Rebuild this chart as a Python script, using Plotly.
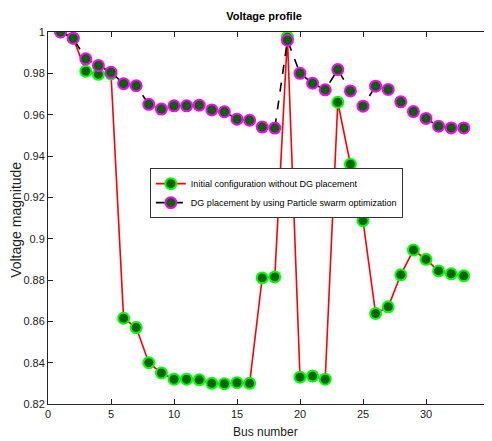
import plotly.graph_objects as go

bus = list(range(1, 34))
v_initial = [1.0, 0.997, 0.981, 0.9795, 0.9797, 0.8615, 0.857, 0.840, 0.835, 0.832,
             0.832, 0.8317, 0.830, 0.8298, 0.8303, 0.830, 0.881, 0.8815, 0.9975, 0.833,
             0.8335, 0.832, 0.966, 0.936, 0.9087, 0.8638, 0.867, 0.8825, 0.8945, 0.890,
             0.8844, 0.883, 0.882]
v_pso = [1.0, 0.997, 0.987, 0.9838, 0.9805, 0.975, 0.974, 0.965, 0.9627, 0.9643,
         0.9643, 0.9646, 0.9623, 0.9614, 0.9578, 0.9573, 0.954, 0.9535, 0.996, 0.980,
         0.9752, 0.972, 0.9818, 0.9715, 0.9641, 0.9738, 0.9722, 0.9662, 0.9615, 0.9582,
         0.9544, 0.9536, 0.9536]
x_ticks = [0, 5, 10, 15, 20, 25, 30, 35]
y_ticks = [0.82, 0.84, 0.86, 0.88, 0.9, 0.92, 0.94, 0.96, 0.98, 1.0]
y_tick_text = ["0.82", "0.84", "0.86", "0.88", "0.9", "0.92", "0.94", "0.96", "0.98", "1"]

FONT = "Liberation Sans, Arial, sans-serif"

fig = go.Figure()
fig.add_trace(go.Scatter(
    x=bus, y=v_initial, mode="lines+markers",
    name="Initial configuration without DG placement",
    line=dict(color="#ff0000", width=1.6),
    marker=dict(size=11, color="#006400", line=dict(color="#00ff00", width=2)),
))
fig.add_trace(go.Scatter(
    x=bus, y=v_pso, mode="lines+markers",
    name="DG placement by using Particle swarm optimization",
    line=dict(color="#000000", width=1.6, dash="dash"),
    marker=dict(size=11, color="#006400", line=dict(color="#ff00ff", width=2)),
))

# page body has an 8px margin, so the figure is sized/offset to compensate
fig.update_layout(
    width=484, height=433,
    margin=dict(l=40, r=3, t=24, b=37),
    paper_bgcolor="white", plot_bgcolor="white",
    font=dict(family=FONT, size=11, color="#222222"),
    title=dict(text="<b>Voltage profile</b>", x=0.529, xanchor="center", y=0.981,
               yanchor="middle", font=dict(family=FONT, size=11, color="#000000")),
    legend=dict(x=0.231, y=0.634, xanchor="left", yanchor="top",
                bgcolor="white", bordercolor="#333333", borderwidth=1,
                font=dict(family=FONT, size=9, color="#000000"),
                tracegroupgap=0, itemwidth=30),
    showlegend=True,
    annotations=[
        dict(text="Bus number", xref="paper", yref="paper", x=0.494, y=-0.076,
             xanchor="center", yanchor="middle", showarrow=False,
             font=dict(family=FONT, size=12, color="#222222")),
        dict(text="Voltage magnitude", xref="paper", yref="paper", x=-0.0726, y=0.495,
             xanchor="center", yanchor="middle", showarrow=False, textangle=-90,
             font=dict(family=FONT, size=14, color="#222222")),
    ],
)
fig.update_xaxes(
    range=[0, 35], tickvals=x_ticks, ticks="inside", ticklen=5, tickcolor="#222222",
    showline=True, linecolor="#222222", linewidth=1, mirror="ticks", showgrid=False, zeroline=False,
    automargin=False, tickfont=dict(size=11),
)
fig.update_yaxes(
    range=[0.82, 1.0], tickvals=y_ticks, ticktext=y_tick_text, ticks="inside", ticklen=5,
    tickcolor="#222222", showline=True, linecolor="#222222", linewidth=1, mirror="ticks",
    showgrid=False, zeroline=False, automargin=False, tickfont=dict(size=11),
)

fig.write_html("out.html")
